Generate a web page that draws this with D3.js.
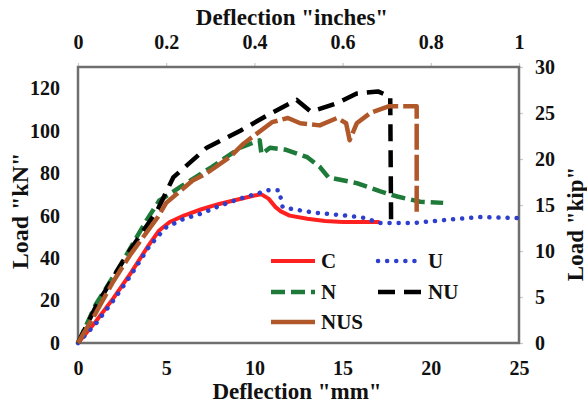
<!DOCTYPE html>
<html>
<head>
<meta charset="utf-8">
<script src="https://cdn.jsdelivr.net/npm/d3@7"></script>
<style>
  body { margin: 0; background: #fff; }
</style>
</head>
<body>
<script>
// series, [deflection mm, load kN]
let seriesC = [[0,0],[1,10],[2,21],[3,33],[4,46],[4.6,53],[5.2,57],[6,60],[7,63],[8,65.5],[9,67.5],[10,69.5],[10.4,70],[10.8,68],[11.2,64],[11.5,62],[12,60],[13,58.5],[14,57.5],[15,57],[16,57],[17.1,57]];
let seriesU = [[0,0],[1,9],[2,20],[3,32],[4,45],[4.5,50],[5,54.5],[6,58.5],[7,61],[8,64.5],[9,67.5],[10,70],[10.8,72],[11.4,72],[11.6,64],[12.2,63],[13.3,61.5],[15.2,60],[16.2,59],[17.1,56.5],[19,56.5],[20.9,58],[22.8,59.3],[25,58.8]];
let seriesN = [[0,0],[1,18],[2.5,38],[3.9,58],[4.6,67],[5.8,73.5],[7.6,83],[9.2,92],[10.3,95.5],[10.4,89],[10.9,92],[11.8,91],[13,87.5],[13.7,83],[14.2,78],[15.8,75.3],[17.1,71.5],[18.1,69],[19.4,66.5],[20.7,66]];
let seriesNU = [[0,0],[1,17],[2.8,42],[4.5,62.5],[5.4,78],[7.3,92],[9.2,100],[10.9,108],[12.4,114.5],[13.2,109],[13.6,110],[14.7,113],[15.8,117.5],[17,118.5],[17.7,116],[17.75,56]];
let seriesNUS = [[0,0],[1,14],[2,29],[3,42],[4.5,59],[5,66],[6.5,76.5],[7.3,80],[8.6,87.5],[9.4,94],[11,104],[11.9,106],[12.6,103.5],[13.7,102.5],[14.7,106],[15.2,103.5],[15.4,95.5],[15.8,103.5],[16.6,108.5],[17.6,111.5],[19.2,111.5],[19.2,60]];

let mmTicks = [0, 5, 10, 15, 20, 25];
let inchTicks = [0, 0.2, 0.4, 0.6, 0.8, 1];
let kNTicks = [0, 20, 40, 60, 80, 100, 120];
let kipTicks = [0, 5, 10, 15, 20, 25, 30];

let names = ['C', 'U', 'N', 'NU', 'NUS'];
let allSeries = [seriesC, seriesU, seriesN, seriesNU, seriesNUS];

let W = 587, H = 406;
let box = { left: 78, right: 519, top: 67, bottom: 343 };
let FONT = '"Liberation Serif", Tinos, "Times New Roman", Times, serif';

let styles = {
  C:   { color: '#ff2020', width: 4,   dash: null,     cap: 'butt' },
  U:   { color: '#2d3fcc', width: 4.5, dash: '0.1,9',  cap: 'round' },
  N:   { color: '#1d7a38', width: 4.5, dash: '14,6',   cap: 'butt' },
  NU:  { color: '#000000', width: 4.5, dash: '17,9',   cap: 'butt' },
  NUS: { color: '#b0582a', width: 4.5, dash: '26,5',   cap: 'butt' }
};

let svg = d3.select('body').append('svg')
    .attr('width', W)
    .attr('height', H)
    .attr('font-family', FONT)
    .attr('font-weight', 'bold');

let x = d3.scaleLinear().domain([0, 25]).range([box.left, box.right]);
let xIn = d3.scaleLinear().domain([0, 1]).range([box.left, box.right]);
let y = d3.scaleLinear().domain([0, 130]).range([box.bottom, box.top]);
let yKip = d3.scaleLinear().domain([0, 30]).range([box.bottom, box.top]);

function styleAxis(g, size) {
  g.attr('font-family', FONT).attr('font-size', size);
  g.select('.domain').remove();
  g.selectAll('text')
      .style('font-family', FONT)
      .style('font-weight', 'bold')
      .style('font-size', size + 'px')
      .attr('fill', '#111');
  g.selectAll('line').attr('stroke', '#c8c8c8').attr('stroke-width', 1.2);
}

// bottom axis
svg.append('g')
    .attr('transform', 'translate(0,' + box.bottom + ')')
    .call(d3.axisBottom(x).tickValues(mmTicks).tickSize(0).tickPadding(18))
    .call(styleAxis, 20);

// top axis
svg.append('g')
    .attr('transform', 'translate(0,' + box.top + ')')
    .call(d3.axisTop(xIn).tickValues(inchTicks).tickFormat(d3.format('~g')).tickSize(4).tickPadding(14))
    .call(styleAxis, 20);

// left axis
svg.append('g')
    .attr('transform', 'translate(' + box.left + ',0)')
    .call(d3.axisLeft(y).tickValues(kNTicks).tickSize(0).tickPadding(18))
    .call(styleAxis, 20);

// right axis
svg.append('g')
    .attr('transform', 'translate(' + box.right + ',0)')
    .call(d3.axisRight(yKip).tickValues(kipTicks).tickSize(4).tickPadding(12))
    .call(styleAxis, 20);

// plot frame
svg.append('rect')
    .attr('x', box.left)
    .attr('y', box.top)
    .attr('width', box.right - box.left)
    .attr('height', box.bottom - box.top)
    .attr('fill', 'none')
    .attr('stroke', '#6f6f6f')
    .attr('stroke-width', 2.5);

let line = d3.line()
  .x(function(d) { return x(d[0]); })
  .y(function(d) { return y(d[1]); });

names.forEach(function(name, i) {
  let s = styles[name];
  svg.append('path')
      .datum(allSeries[i])
      .attr('d', line)
      .attr('fill', 'none')
      .attr('stroke', s.color)
      .attr('stroke-width', s.width)
      .attr('stroke-dasharray', s.dash)
      .attr('stroke-linecap', s.cap)
      .attr('stroke-linejoin', 'round');
});

// legend
let legendPos = {
  C:   [271, 261], U:  [378, 261],
  N:   [271, 292], NU: [378, 292],
  NUS: [271, 322]
};
names.forEach(function(name) {
  let s = styles[name];
  let p = legendPos[name];
  svg.append('line')
      .attr('x1', p[0]).attr('x2', p[0] + 44)
      .attr('y1', p[1]).attr('y2', p[1])
      .attr('stroke', s.color)
      .attr('stroke-width', s.width)
      .attr('stroke-dasharray', name === 'NUS' ? null : s.dash)
      .attr('stroke-linecap', s.cap);
  svg.append('text')
      .attr('x', p[0] + 50)
      .attr('y', p[1] + 7)
      .style('font-size', '21px')
      .attr('fill', '#111')
      .text(name);
});

// axis titles
svg.append('text')
    .attr('x', 292).attr('y', 25)
    .attr('text-anchor', 'middle')
    .style('font-size', '23px')
    .attr('fill', '#111')
    .text('Deflection "inches"');

svg.append('text')
    .attr('x', 297).attr('y', 399)
    .attr('text-anchor', 'middle')
    .style('font-size', '23px')
    .attr('fill', '#111')
    .text('Deflection "mm"');

svg.append('text')
    .attr('transform', 'translate(28,211) rotate(-90)')
    .attr('text-anchor', 'middle')
    .style('font-size', '24px')
    .attr('fill', '#111')
    .text('Load "kN"');

svg.append('text')
    .attr('transform', 'translate(583,224) rotate(-90)')
    .attr('text-anchor', 'middle')
    .style('font-size', '23px')
    .attr('fill', '#111')
    .text('Load "kip"');
</script>
</body>
</html>
